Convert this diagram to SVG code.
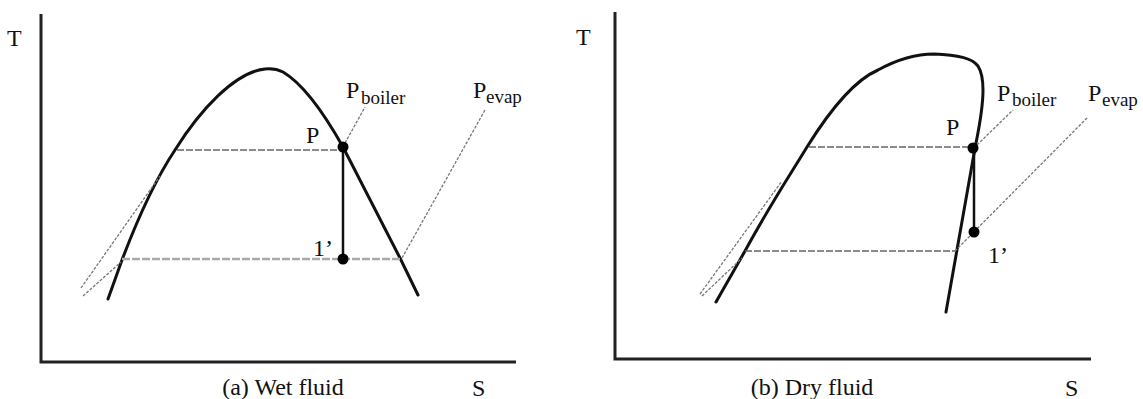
<svg xmlns="http://www.w3.org/2000/svg" width="1143" height="399" viewBox="0 0 1143 399">
<style>
text{font-family:"Liberation Serif","Times New Roman",serif;fill:#111}
.lbl{font-size:24px}
.sub{font-size:19px}
.axis{stroke:#222;stroke-width:3;fill:none}
.curve{stroke:#111;stroke-width:3;fill:none;stroke-linejoin:round;stroke-linecap:round}
.proc{stroke:#111;stroke-width:2.5}
.dash{stroke:#666;stroke-width:1.5;stroke-dasharray:7 2;fill:none}
.dashl{stroke:#aaa;stroke-width:2.5;stroke-dasharray:8 2;fill:none}
.lead{stroke:#777;stroke-width:1.3;stroke-dasharray:3 1.5;fill:none}
.dot{fill:#000}
</style>
<rect width="1143" height="399" fill="#fff"/>
<g id="panel-a">
  <g id="axes-a">
    <path class="axis" d="M41,14 V362 H516"/>
    <text class="lbl" x="7" y="46">T</text>
    <text class="lbl" x="472" y="396">S</text>
    <text class="lbl" x="283" y="395" text-anchor="middle">(a) Wet fluid</text>
  </g>
  <g id="dome-a">
    <path class="curve" d="M108,299 L122,260 C139,215 155,180 175,150 C200,110 235,72 265,69 Q275,68 283,72 C305,85 325,115 343,147 L400,258 L418,295"/>
  </g>
  <g id="connectors-a">
    <line class="dash" x1="177" y1="150" x2="343" y2="150"/>
    <line class="dashl" x1="122" y1="259" x2="402" y2="259"/>
    <line class="lead" x1="81" y1="288" x2="160" y2="176"/>
    <line class="lead" x1="83" y1="296" x2="121" y2="262"/>
    <line class="lead" x1="345" y1="143" x2="365" y2="107"/>
    <line class="lead" x1="402" y1="258" x2="485" y2="110"/>
    <line class="proc" x1="343" y1="147" x2="343" y2="259"/>
  </g>
  <g id="point-P-a">
    <circle class="dot" cx="343" cy="147" r="5.5"/>
    <text class="lbl" x="306" y="143">P</text>
  </g>
  <g id="point-1-a">
    <circle class="dot" cx="343" cy="259" r="5.5"/>
    <text class="lbl" x="313" y="256">1’</text>
  </g>
  <g id="label-boiler-a">
    <text class="lbl" x="346" y="98">P</text>
    <text class="sub" x="361" y="104">boiler</text>
  </g>
  <g id="label-evap-a">
    <text class="lbl" x="473" y="98">P</text>
    <text class="sub" x="486" y="103">evap</text>
  </g>
</g>
<g id="panel-b">
  <g id="axes-b">
    <path class="axis" d="M615,12 V359 H1091"/>
    <text class="lbl" x="576" y="45">T</text>
    <text class="lbl" x="1065" y="396">S</text>
    <text class="lbl" x="812" y="395" text-anchor="middle">(b) Dry fluid</text>
  </g>
  <g id="dome-b">
    <path class="curve" d="M716,302 L745,251 C770,205 790,175 807,147 C830,110 855,80 878,70 C900,58 918,54 934,54 C958,55 972,58 978,66 Q983,74 983,90 C983,110 979,128 975,148 L946,312"/>
  </g>
  <g id="connectors-b">
    <line class="dash" x1="809" y1="147" x2="973" y2="147"/>
    <line class="dash" x1="745" y1="251" x2="956" y2="251"/>
    <line class="lead" x1="700" y1="294" x2="782" y2="181"/>
    <line class="lead" x1="702" y1="296" x2="742" y2="258"/>
    <line class="lead" x1="977" y1="145" x2="1013" y2="110"/>
    <line class="lead" x1="955" y1="251" x2="1088" y2="117"/>
    <line class="proc" x1="974" y1="148" x2="974" y2="232"/>
  </g>
  <g id="point-P-b">
    <circle class="dot" cx="973" cy="148" r="5.5"/>
    <text class="lbl" x="946" y="135">P</text>
  </g>
  <g id="point-1-b">
    <circle class="dot" cx="974" cy="232" r="5.5"/>
    <text class="lbl" x="988" y="263">1’</text>
  </g>
  <g id="label-boiler-b">
    <text class="lbl" x="997" y="101">P</text>
    <text class="sub" x="1012" y="106">boiler</text>
  </g>
  <g id="label-evap-b">
    <text class="lbl" x="1088" y="101">P</text>
    <text class="sub" x="1102" y="106">evap</text>
  </g>
</g>
</svg>
